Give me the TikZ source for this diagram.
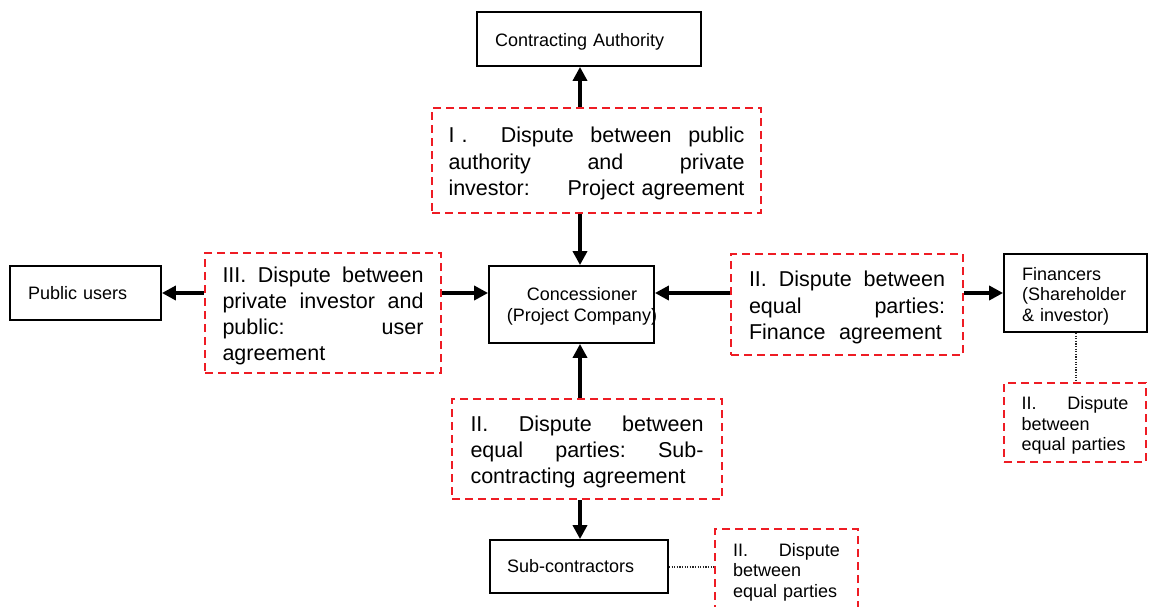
\documentclass[tikz,border=0pt]{standalone}
\usepackage{fontspec}
\setmainfont{Liberation Sans}
\usetikzlibrary{arrows.meta}
\definecolor{disputered}{RGB}{238,28,36}
\newcommand\dfont{\fontsize{21.5}{26.3}\selectfont}
\newcommand\sfont{\fontsize{18}{20.5}\selectfont}
% a line set to a given width, its spaces stretched evenly
\newcommand\jl[2]{\leavevmode\hbox to #1{\spaceskip=\fontdimen2\font plus 1fil\relax
  \xspaceskip=\fontdimen2\font plus 1fil\relax #2}}
\tikzset{
  party/.style={draw=black, line width=1.8pt, inner sep=0pt, font=\sfont, align=left},
  dispute/.style={draw=disputered, line width=2.3pt, dash pattern=on 8pt off 5pt,
                  inner sep=0pt, font=\dfont, align=left, text height=21.5pt},
  smalldispute/.style={dispute, font=\sfont, text height=19.5pt},
  arr/.style={line width=3.6pt, -{Triangle[length=14pt,width=14pt]}},
  dots/.style={line width=2pt, draw=black!85, dash pattern=on 1.3pt off 1.3pt},
}
\begin{document}
\begin{tikzpicture}[x=1pt,y=-1pt]
\useasboundingbox (0,0) rectangle (1151,606);

% parties
\node[party, minimum width=224, minimum height=54, text width=188, text height=19pt] (ca) at (589,39) {Contracting Authority};
\node[party, minimum width=151, minimum height=54, text width=115] (pu) at (85.5,293) {Public users};
\node[party, minimum width=165, minimum height=77] (co) at (571.5,304.5) {};
\node[font=\sfont, align=center, inner sep=0pt] (cotext) at (582,306.5) {Concessioner\\(Project Company)};
\node[party, minimum width=143, minimum height=78, text width=107, text height=19pt] (fi) at (1075.5,293) {Financers\\(Shareholder\\\& investor)};
\node[party, minimum width=178, minimum height=53, text width=144] (sc) at (579,566.5) {Sub-contractors};

% disputes
\node[dispute, minimum width=329, minimum height=105, text width=296] (d1) at (596.5,160.5)
  {\jl{296pt}{I\,\,.\ \ Dispute between public}\\\jl{296pt}{authority and private}\\\hbox to 296pt{investor:\hfil Project agreement}};
\node[dispute, minimum width=236, minimum height=120, text width=201] (d3) at (323,313)
  {\jl{201pt}{III. Dispute between}\\\jl{201pt}{private investor and}\\\jl{201pt}{public: user}\\agreement};
\node[dispute, minimum width=232, minimum height=101, text width=196] (df) at (847,304.5)
  {\jl{196pt}{II. Dispute between}\\\jl{196pt}{equal parties:}\\\jl{193pt}{Finance agreement}};
\node[dispute, minimum width=270, minimum height=100, text width=233] (ds) at (587,449)
  {\jl{233pt}{II. Dispute between}\\\jl{233pt}{equal parties: Sub-}\\contracting agreement};
\node[smalldispute, minimum width=142, minimum height=79, text width=107] (dfs) at (1075,422.5)
  {\jl{107pt}{II. Dispute}\\between\\equal parties};
\node[smalldispute, minimum width=143, minimum height=80, text width=107] (dss) at (786.5,569)
  {\jl{107pt}{II. Dispute}\\between\\equal parties};

% guide lines for the connectors
\coordinate (vx) at (580,0);
\coordinate (hy) at (0,293);

% vertical connectors
\draw[arr] (d1.north -| vx) -- (ca.south -| vx);
\draw[arr] (d1.south -| vx) -- (co.north -| vx);
\draw[arr] (ds.north -| vx) -- (co.south -| vx);
\draw[arr] (ds.south -| vx) -- (sc.north -| vx);

% horizontal connectors
\draw[arr] (d3.west |- hy) -- (pu.east |- hy);
\draw[arr] (d3.east |- hy) -- (co.west |- hy);
\draw[arr] (df.west |- hy) -- (co.east |- hy);
\draw[arr] (df.east |- hy) -- (fi.west |- hy);

% dotted links
\draw[dots] (fi.south) -- (dfs.north -| fi.south);
\draw[dots] (sc.east) -- (dss.west |- sc.east);
\end{tikzpicture}
\end{document}
